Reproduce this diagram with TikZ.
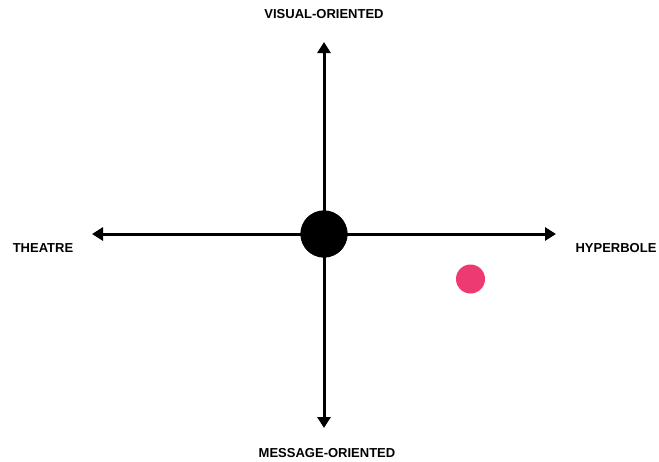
\documentclass[tikz,border=0pt]{standalone}
\usepackage{fontspec}
\setmainfont{Liberation Sans}
\usetikzlibrary{arrows.meta}
\definecolor{pinkdot}{HTML}{EE3A72}
\begin{document}
\begin{tikzpicture}[x=1pt,y=-1pt,
  axis/.style={line width=3pt,-{Triangle[length=11pt,width=13pt]}},
  lbl/.style={font=\fontsize{13}{15}\selectfont\bfseries,inner sep=0pt}]
\useasboundingbox (0,0) rectangle (659,461);
\node[circle,fill=black,minimum size=47pt,inner sep=0pt] (c) at (324,234) {};
\coordinate (top) at (324,42);
\coordinate (bot) at (324,428);
\coordinate (lft) at (92,234);
\coordinate (rgt) at (556,234);
\draw[axis] (c.center) -- (top);
\draw[axis] (c.center) -- (bot);
\draw[axis] (c.center) -- (lft);
\draw[axis] (c.center) -- (rgt);
\node[circle,fill=black,minimum size=47pt,inner sep=0pt] at (324,234) {};
\node[circle,fill=pinkdot,minimum size=29pt,inner sep=0pt] (p) at (470.5,279) {};
\node[lbl] (v) at (324,14) {VISUAL-ORIENTED};
\node[lbl] (t) at (43,248) {THEATRE};
\node[lbl] (h) at (616,248) {HYPERBOLE};
\node[lbl] (m) at (327,453) {MESSAGE-ORIENTED};
\end{tikzpicture}
\end{document}
